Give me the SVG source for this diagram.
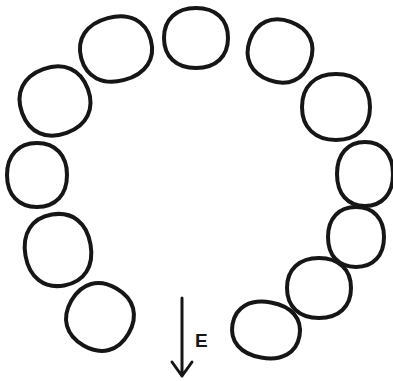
<svg xmlns="http://www.w3.org/2000/svg" width="393" height="381" viewBox="0 0 393 381">
<style>
.c{fill:none;stroke:#161616;stroke-width:4;stroke-linejoin:round;stroke-linecap:round}
.a{fill:none;stroke:#161616;stroke-width:3;stroke-linecap:round;stroke-linejoin:round}
.t{font-family:"Liberation Sans",Arial,sans-serif;font-size:19px;font-weight:bold;fill:#161616}
</style>
<rect width="393" height="381" fill="#fff"/>
<g id="n1" transform="translate(196,38)"><path class="c" d="M32 0C32 18.6 19.8 30 0 30C-19.8 30 -32 18.6 -32 0C-32 -18.6 -19.8 -30 0 -30C19.8 -30 32 -18.6 32 0Z"/></g>
<g id="n2" transform="translate(116,49) rotate(-15)"><path class="c" d="M36 0C36 19.8 22.3 32 0 32C-22.3 32 -36 19.8 -36 0C-36 -19.8 -22.3 -32 0 -32C22.3 -32 36 -19.8 36 0Z"/></g>
<g id="n3" transform="translate(55,101) rotate(-20)"><path class="c" d="M35 0C35 21.1 21.7 34 0 34C-21.7 34 -35 21.1 -35 0C-35 -21.1 -21.7 -34 0 -34C21.7 -34 35 -21.1 35 0Z"/></g>
<g id="n4" transform="translate(37,175)"><path class="c" d="M30 0C30 19.8 18.6 32 0 32C-18.6 32 -30 19.8 -30 0C-30 -19.8 -18.6 -32 0 -32C18.6 -32 30 -19.8 30 0Z"/></g>
<g id="n5" transform="translate(58,250) rotate(-10)"><path class="c" d="M33 0C33 22.3 20.5 36 0 36C-20.5 36 -33 22.3 -33 0C-33 -22.3 -20.5 -36 0 -36C20.5 -36 33 -22.3 33 0Z"/></g>
<g id="n6" transform="translate(100,317) rotate(30)"><path class="c" d="M33 0C33 20.5 20.5 33 0 33C-20.5 33 -33 20.5 -33 0C-33 -20.5 -20.5 -33 0 -33C20.5 -33 33 -20.5 33 0Z"/></g>
<g id="n7" transform="translate(280,51) rotate(20)"><path class="c" d="M32 0C32 19.2 19.8 31 0 31C-19.8 31 -32 19.2 -32 0C-32 -19.2 -19.8 -31 0 -31C19.8 -31 32 -19.2 32 0Z"/></g>
<g id="n8" transform="translate(336,107)"><path class="c" d="M34 0C34 20.5 21.1 33 0 33C-21.1 33 -34 20.5 -34 0C-34 -20.5 -21.1 -33 0 -33C21.1 -33 34 -20.5 34 0Z"/></g>
<g id="n9" transform="translate(365,174)"><path class="c" d="M28 0C28 19.8 17.4 32 0 32C-17.4 32 -28 19.8 -28 0C-28 -19.8 -17.4 -32 0 -32C17.4 -32 28 -19.8 28 0Z"/></g>
<g id="n10" transform="translate(356,237)"><path class="c" d="M28 0C28 18.6 17.4 30 0 30C-17.4 30 -28 18.6 -28 0C-28 -18.6 -17.4 -30 0 -30C17.4 -30 28 -18.6 28 0Z"/></g>
<g id="n11" transform="translate(319,288)"><path class="c" d="M32 0C32 18.6 19.8 30 0 30C-19.8 30 -32 18.6 -32 0C-32 -18.6 -19.8 -30 0 -30C19.8 -30 32 -18.6 32 0Z"/></g>
<g id="n12" transform="translate(266,330) rotate(10)"><path class="c" d="M34 0C34 17.4 21.1 28 0 28C-21.1 28 -34 17.4 -34 0C-34 -17.4 -21.1 -28 0 -28C21.1 -28 34 -17.4 34 0Z"/></g>
<g id="connectors">
<path class="a" d="M182 298L182 376M172 362L182 376L192 362"/>
</g>
<text class="t" x="195" y="347">E</text>
</svg>
